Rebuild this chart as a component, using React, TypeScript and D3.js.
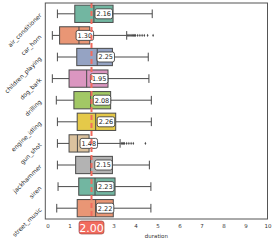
// @ts-nocheck
import { useRef, useEffect } from "react";
import * as d3 from "d3";

const categories = [
  "air_conditioner",
  "car_horn",
  "children_playing",
  "dog_bark",
  "drilling",
  "engine_idling",
  "gun_shot",
  "jackhammer",
  "siren",
  "street_music",
];
const whiskerLow = [0.45, 0.22, 0.45, 0.22, 0.4, 0.45, 0.45, 0.45, 0.48, 0.42];
const q1 = [1.24, 0.55, 1.33, 0.98, 1.2, 1.35, 0.98, 1.28, 1.42, 1.35];
const medians = [2.11, 1.43, 2.26, 1.78, 1.96, 2.19, 1.36, 1.96, 2.16, 2.19];
const q3 = [2.98, 1.92, 2.95, 2.75, 2.87, 3.1, 1.89, 2.95, 3.07, 2.99];
const whiskerHigh = [4.76, 3.6, 4.58, 4.61, 4.72, 4.72, 3.3, 4.63, 4.7, 4.7];
const means = [2.16, 1.3, 2.25, 1.95, 2.08, 2.26, 1.48, 2.15, 2.23, 2.22];
const outliers = [
  [],
  [3.65, 3.7, 3.75, 3.8, 3.85, 3.9, 3.95, 4.0, 4.1, 4.2, 4.3, 4.4, 4.55, 4.8],
  [],
  [],
  [],
  [],
  [3.35, 3.4, 3.45, 3.5, 3.6, 3.7, 3.8, 3.9, 4.45],
  [],
  [],
  [],
];
const palette = ["#66c2a5", "#fc8d62", "#8da0cb", "#e78ac3", "#a6d854", "#ffd92f", "#e5c494", "#b3b3b3", "#66c2a5", "#fc8d62"];
const xTicks = [0, 1, 2, 3, 4, 5, 6, 7, 8, 9, 10];
const refValue = 2.0;

const desat = (c) => {
  const h = d3.hsl(c);
  h.s *= 0.75;
  return h.formatHex();
};

const BoxChart = ({ width = 274, height = 242 }) => {
  const svgRef = useRef();

  useEffect(() => {
    const svg = d3.select(svgRef.current);
    svg.selectAll("*").remove();

    const margin = { top: 3, right: 6.5, bottom: 23, left: 45.3 };
    const x = d3
      .scaleLinear()
      .domain([-0.1, 10])
      .range([margin.left, width - margin.right]);
    const y = d3
      .scaleBand()
      .domain(categories)
      .range([margin.top, height - margin.bottom])
      .padding(0);
    const bw = y.bandwidth() * 0.8;
    const lineColor = "#4a4a4a";
    const font = "DejaVu Sans, sans-serif";

    svg.attr("width", width).attr("height", height);

    const rows = svg
      .append("g")
      .selectAll("g")
      .data(categories)
      .enter()
      .append("g")
      .attr("transform", (d) => `translate(0,${y(d) + y.bandwidth() / 2})`);

    // bigotes
    rows
      .append("line")
      .attr("x1", (d, i) => x(whiskerLow[i]))
      .attr("x2", (d, i) => x(q1[i]))
      .attr("stroke", lineColor)
      .attr("stroke-width", 1);
    rows
      .append("line")
      .attr("x1", (d, i) => x(q3[i]))
      .attr("x2", (d, i) => x(whiskerHigh[i]))
      .attr("stroke", lineColor)
      .attr("stroke-width", 1);
    rows
      .append("line")
      .attr("x1", (d, i) => x(whiskerLow[i]))
      .attr("x2", (d, i) => x(whiskerLow[i]))
      .attr("y1", -bw / 4)
      .attr("y2", bw / 4)
      .attr("stroke", lineColor);
    rows
      .append("line")
      .attr("x1", (d, i) => x(whiskerHigh[i]))
      .attr("x2", (d, i) => x(whiskerHigh[i]))
      .attr("y1", -bw / 4)
      .attr("y2", bw / 4)
      .attr("stroke", lineColor);

    // cajas
    rows
      .append("rect")
      .attr("x", (d, i) => x(q1[i]))
      .attr("y", -bw / 2)
      .attr("width", (d, i) => x(q3[i]) - x(q1[i]))
      .attr("height", bw)
      .attr("fill", (d, i) => desat(palette[i]))
      .attr("stroke", lineColor)
      .attr("stroke-width", 1);
    rows
      .append("line")
      .attr("x1", (d, i) => x(medians[i]))
      .attr("x2", (d, i) => x(medians[i]))
      .attr("y1", -bw / 2)
      .attr("y2", bw / 2)
      .attr("stroke", lineColor)
      .attr("stroke-width", 1);

    // outliers
    rows
      .selectAll("path.out")
      .data((d, i) => outliers[i])
      .enter()
      .append("path")
      .attr("class", "out")
      .attr("d", d3.symbol(d3.symbolDiamond2, 6))
      .attr("transform", (v) => `translate(${x(v)},0) scale(0.6,1)`)
      .attr("fill", lineColor);

    // linea de referencia
    svg
      .append("line")
      .attr("x1", x(refValue))
      .attr("x2", x(refValue))
      .attr("y1", margin.top)
      .attr("y2", height - margin.bottom)
      .attr("stroke", "#f26b5e")
      .attr("stroke-width", 2)
      .attr("stroke-dasharray", "5,3");

    // etiquetas de media
    rows.each(function (d, i) {
      const g = d3.select(this);
      const tx = x(means[i]) + 1.5;
      const t = g
        .append("text")
        .attr("x", tx)
        .attr("y", 2.3)
        .attr("font-family", font)
        .attr("font-size", 6.5)
        .attr("fill", "#222")
        .text(means[i].toFixed(2));
      const bb = t.node().getBBox();
      g.insert("rect", "text")
        .attr("x", bb.x - 1.5)
        .attr("y", -5)
        .attr("width", bb.width + 3)
        .attr("height", 10)
        .attr("rx", 2)
        .attr("fill", "white")
        .attr("stroke", "#333")
        .attr("stroke-width", 0.8);
    });

    // marco
    svg
      .append("rect")
      .attr("x", margin.left)
      .attr("y", margin.top)
      .attr("width", width - margin.right - margin.left)
      .attr("height", height - margin.bottom - margin.top)
      .attr("fill", "none")
      .attr("stroke", "#555")
      .attr("stroke-width", 1);

    // eje x (el "2" queda tapado por la etiqueta roja)
    const ax = svg
      .append("g")
      .attr("transform", `translate(0,${height - margin.bottom})`)
      .call(
        d3
          .axisBottom(x)
          .tickValues(xTicks.filter((t) => t !== refValue))
          .tickSize(0)
          .tickPadding(5)
          .tickFormat(d3.format("d"))
      );
    ax.select(".domain").remove();
    ax.selectAll("text").attr("font-family", font).attr("font-size", 5.5).attr("fill", "#333");

    svg
      .append("text")
      .attr("x", (margin.left + width - margin.right) / 2)
      .attr("y", 238)
      .attr("text-anchor", "middle")
      .attr("font-family", font)
      .attr("font-size", 5.5)
      .attr("fill", "#333")
      .text("duration");

    // etiqueta del valor de referencia
    const lab = svg.append("g").attr("transform", `translate(${x(refValue)},${228})`);
    lab
      .append("rect")
      .attr("x", -12.5)
      .attr("y", -7)
      .attr("width", 25)
      .attr("height", 13)
      .attr("rx", 2.5)
      .attr("fill", "#f26b5e")
      .attr("stroke", "#8a3a32")
      .attr("stroke-width", 0.6);
    lab
      .append("text")
      .attr("y", 4)
      .attr("text-anchor", "middle")
      .attr("font-family", font)
      .attr("font-size", 11)
      .attr("fill", "white")
      .text(refValue.toFixed(2));

    // etiquetas del eje y
    svg
      .append("g")
      .selectAll("text")
      .data(categories)
      .enter()
      .append("text")
      .attr("transform", (d) => `translate(42,${y(d) + y.bandwidth() / 2 + 2}) rotate(-45)`)
      .attr("text-anchor", "end")
      .attr("font-family", font)
      .attr("font-size", 6)
      .attr("fill", "#222")
      .text((d) => d);
  }, []);

  return <svg ref={svgRef} style={{ position: "absolute", left: 0, top: 0 }}></svg>;
};

export default function App() {
  return <BoxChart />;
}
